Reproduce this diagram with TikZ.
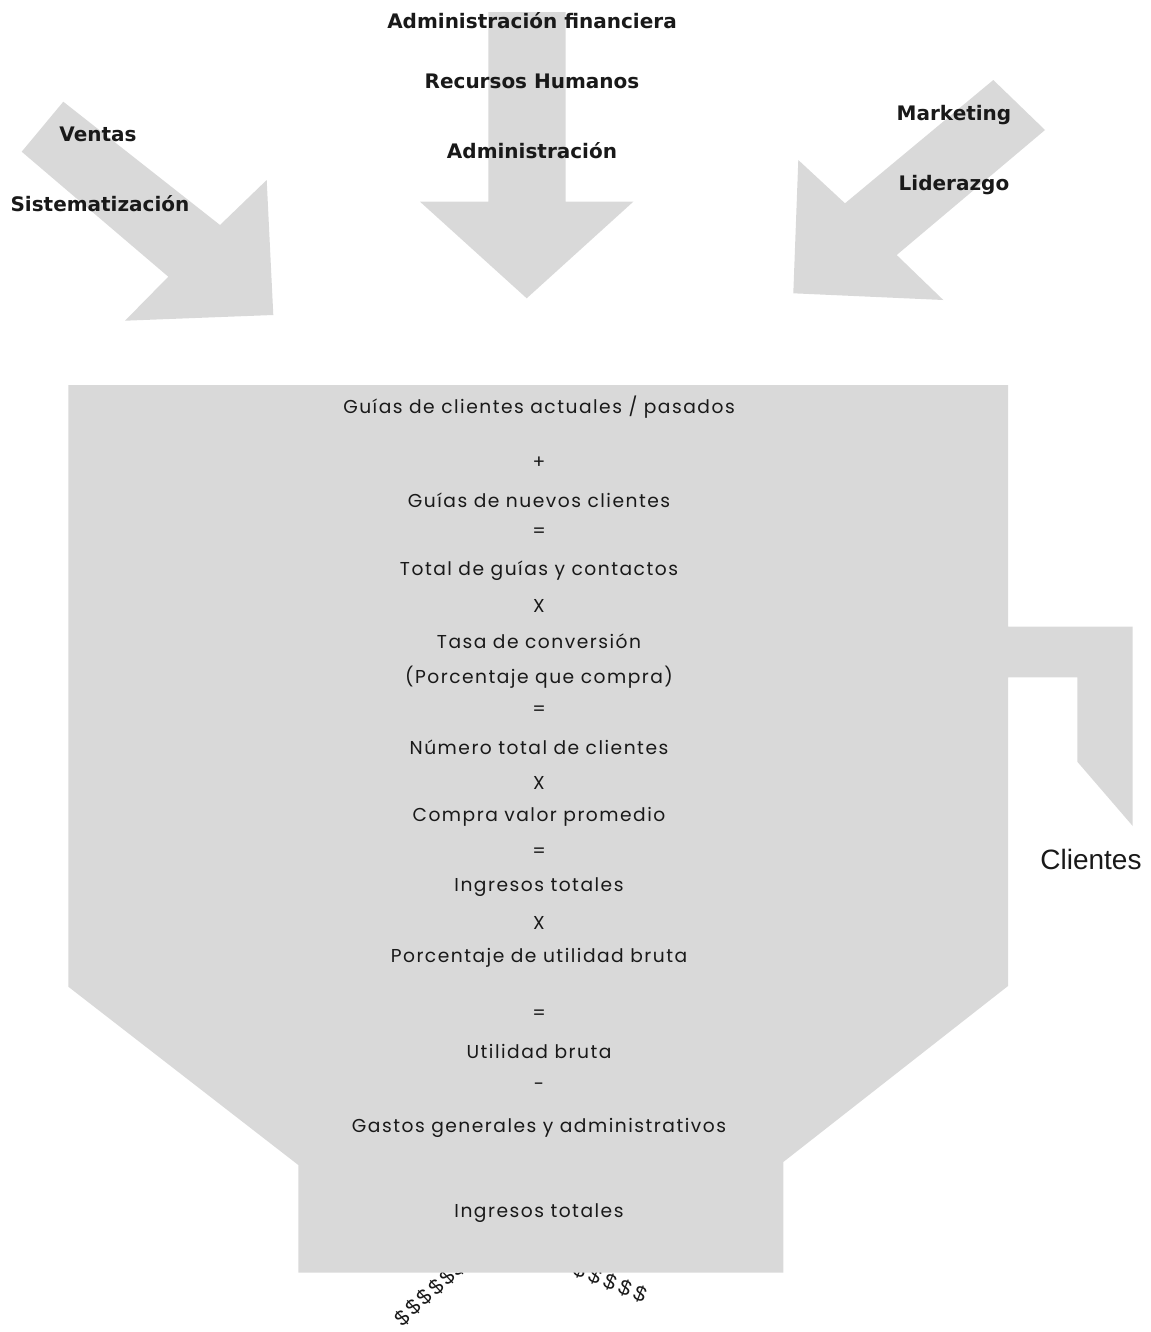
\documentclass[tikz,border=0pt]{standalone}
\usepackage{fontspec}
\setmainfont{Liberation Sans}
\newfontfamily\lblfont{DejaVu Sans}
\newfontfamily\stepfont{Poppins}[LetterSpace=8]
\newfontfamily\cltfont{Liberation Sans}
\begin{document}
\begin{tikzpicture}[x=0.75pt,y=-0.75pt,
  shape fill/.style={fill=black!15,draw=none},
  toplabel/.style={font=\lblfont\bfseries\fontsize{15}{18}\selectfont,text=black!90,inner sep=0pt},
  steptext/.style={font=\stepfont\fontsize{14}{16}\selectfont,text=black!90,inner sep=0pt},
  money/.style={font=\cltfont\fontsize{16}{18}\selectfont,text=black!90,inner sep=0pt}]
\useasboundingbox (0,0) rectangle (1151,1332);

% incoming arrows
\fill[shape fill] (21.7,151.7) -- (63.3,101.7) -- (220,225) -- (266.7,180)
  -- (273.3,315) -- (125,320.7) -- (168.3,276.7) -- cycle;
\fill[shape fill] (488.3,12) -- (565.7,12) -- (565.7,201.7) -- (633.3,201.7)
  -- (526.7,298.3) -- (420,201.7) -- (488.3,201.7) -- cycle;
\fill[shape fill] (993.3,80) -- (1045,130) -- (896.7,255) -- (943.3,300)
  -- (793.3,293.3) -- (798.3,160) -- (845,203.3) -- cycle;

% money streams leaving the funnel (partly hidden under it)
\foreach \i/\px/\py in {1/402/1318,2/413/1307,3/424/1297,4/436/1287,5/447/1277,6/457/1268}
  \node[money,rotate=43] (mL\i) at (\px,\py) {\$};
\foreach \i/\px/\py in {1/580/1270,2/595/1276,3/610/1282,4/625/1288,5/640/1294}
  \node[money,rotate=-22] (mR\i) at (\px,\py) {\$};

% funnel with the customer branch
\fill[shape fill] (68.3,385) -- (1008,385) -- (1008,626.7) -- (1132.7,626.7)
  -- (1132.7,826) -- (1077.3,761.7) -- (1077.3,677.3) -- (1008,677.3)
  -- (1008,986) -- (783.3,1162) -- (783.3,1272.7) -- (298.3,1272.7)
  -- (298.3,1165) -- (68.3,986.7) -- cycle;

% area labels
\node[toplabel] (ventas) at (98,134) {Ventas};
\node[toplabel] (sist) at (100,204) {Sistematización};
\node[toplabel] (adfin) at (532,21) {Administración financiera};
\node[toplabel] (rrhh) at (532,81) {Recursos Humanos};
\node[toplabel] (admin) at (532,151) {Administración};
\node[toplabel] (mkt) at (954,115) {Marketing};
\node[toplabel] (lid) at (954,185) {Liderazgo};

% calculation steps
\node[steptext] (s1) at (539,407) {Guías de clientes actuales / pasados};
\node[steptext] (s2) at (539,463) {+};
\node[steptext] (s3) at (539,500) {Guías de nuevos clientes};
\node[steptext] (s4) at (539,533) {=};
\node[steptext] (s5) at (539,571) {Total de guías y contactos};
\node[steptext] (s6) at (539,606) {X};
\node[steptext] (s7) at (539,641) {Tasa de conversión};
\node[steptext] (s8) at (539,677) {(Porcentaje que compra)};
\node[steptext] (s9) at (539,711) {=};
\node[steptext] (s10) at (539,747) {Número total de clientes};
\node[steptext] (s11) at (539,783) {X};
\node[steptext] (s12) at (539,817) {Compra valor promedio};
\node[steptext] (s13) at (539,853) {=};
\node[steptext] (s14) at (539,887) {Ingresos totales};
\node[steptext] (s15) at (539,923) {X};
\node[steptext] (s16) at (539,958) {Porcentaje de utilidad bruta};
\node[steptext] (s17) at (539,1015) {=};
\node[steptext] (s18) at (539,1051) {Utilidad bruta};
\node[steptext] (s19) at (539,1087) {-};
\node[steptext] (s20) at (539,1128) {Gastos generales y administrativos};
\node[steptext] (s21) at (539,1213) {Ingresos totales};

\node[font=\cltfont\fontsize{21}{24}\selectfont,text=black!90,inner sep=0pt] (clientes) at (1091,859) {Clientes};
\end{tikzpicture}
\end{document}
